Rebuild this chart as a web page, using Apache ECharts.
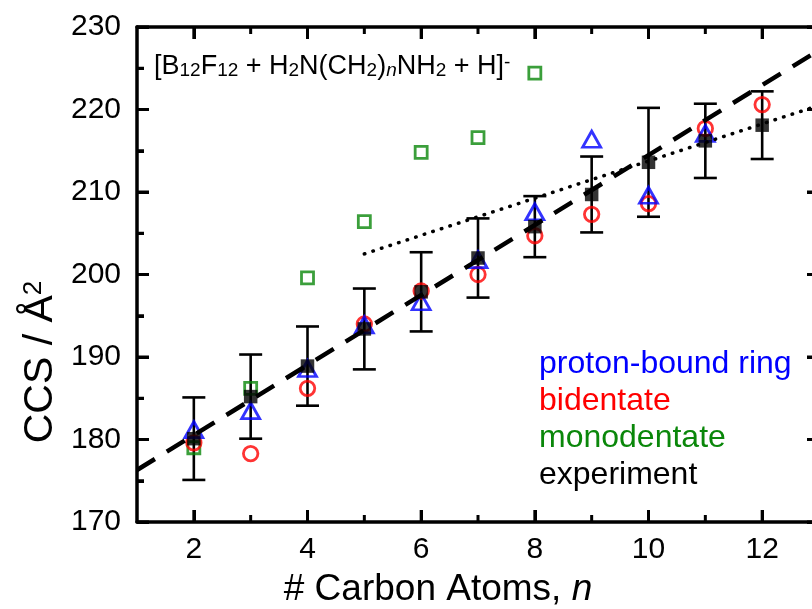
<!DOCTYPE html>
<html>
<head>
<meta charset="utf-8">
<script src="https://cdn.jsdelivr.net/npm/echarts@6/dist/echarts.min.js"></script>
<style>
html,body{margin:0;padding:0;background:#fff;}
#chart{width:812px;height:609px;}
</style>
</head>
<body>
<div id="chart"></div>
<script>
// ---- data ----
const nVals = [2, 3, 4, 5, 6, 7, 8, 9, 10, 11, 12];
const expMean = [180.1, 185.2, 188.9, 193.4, 197.9, 202.0, 205.8, 209.7, 213.6, 216.2, 218.1];
const expErr = [5.0, 5.1, 4.8, 4.9, 4.8, 4.8, 3.7, 4.6, 6.6, 4.5, 4.1];
const ringN = [2, 3, 4, 5, 6, 7, 8, 9, 10, 11];
const ringVals = [181.2, 183.5, 188.6, 193.9, 196.7, 201.8, 207.6, 216.4, 209.6, 217.1];
const bidN = [2, 3, 4, 5, 6, 7, 8, 9, 10, 11, 12];
const bidVals = [179.6, 178.3, 186.2, 194.0, 198.0, 200.0, 204.7, 207.3, 208.6, 217.7, 220.6];
const monoN = [2, 3, 4, 5, 6, 7, 8];
const monoVals = [179.0, 186.2, 199.6, 206.4, 214.8, 216.6, 224.4];
const dashFit = [[1, 176.3], [13, 227.2]];
const dotFit = [[5, 202.5], [13, 220.5]];
const xMajor = [2, 4, 6, 8, 10, 12];
const xMinor = [3, 5, 7, 9, 11];
const yMajor = [170, 180, 190, 200, 210, 220, 230];
const yMinor = [175, 185, 195, 205, 215, 225];

const FONT = '"Liberation Sans", Arial, sans-serif';
const X_MIN = 1, X_MAX = 13, Y_MIN = 170, Y_MAX = 230;
const X_MID = (X_MIN + X_MAX) / 2, Y_MID = (Y_MIN + Y_MAX) / 2;
const chart = echarts.init(document.getElementById('chart'));

function xAx(pos, withLabel) {
  return {
    type: 'value', min: X_MIN, max: X_MAX, interval: 1, position: pos,
    axisLine: {show: true, onZero: false, lineStyle: {color: '#000', width: 3.5}},
    axisTick: {show: true, inside: true, length: 12, customValues: xMajor, lineStyle: {color: '#000', width: 3}},
    axisLabel: withLabel ? {show: true, customValues: xMajor, fontSize: 30, color: '#000', fontFamily: FONT, margin: 13} : {show: false},
    splitLine: {show: false}
  };
}
function yAx(pos, withLabel) {
  return {
    type: 'value', min: Y_MIN, max: Y_MAX, interval: 10, position: pos,
    axisLine: {show: true, onZero: false, lineStyle: {color: '#000', width: 3.5}},
    axisTick: {show: true, inside: true, length: 12, lineStyle: {color: '#000', width: 3}},
    minorTick: {show: true, splitNumber: 2, length: 7, lineStyle: {color: '#000', width: 3}},
    axisLabel: withLabel ? {show: true, customValues: yMajor, fontSize: 30, color: '#000', fontFamily: FONT, margin: 16} : {show: false},
    splitLine: {show: false}, minorSplitLine: {show: false}
  };
}

const errData = nVals.map((n, i) => [n, expMean[i] - expErr[i], expMean[i] + expErr[i]]);
// tick marks: [x value, y value, kind (0 = x tick, 1 = y tick), length]
const tickData = [].concat(
  xMajor.map(v => [v, Y_MID, 0, 12]),
  xMinor.map(v => [v, Y_MID, 0, 7]),
  yMajor.map(v => [X_MID, v, 1, 12]),
  yMinor.map(v => [X_MID, v, 1, 7])
);

const option = {
  animation: false,
  backgroundColor: '#fff',
  grid: {left: 137, top: 27, width: 682, height: 495, outerBoundsMode: 'none', containLabel: false},
  xAxis: [xAx('bottom', true), xAx('top', false)],
  yAxis: [yAx('left', true), yAx('right', false)],
  series: [
    {type: 'custom', data: tickData, encode: {x: 0, y: 1}, silent: true, clip: false, z: 5,
      renderItem: function (params, api) {
        const cs = params.coordSys;
        const p = api.coord([api.value(0), api.value(1)]);
        const len = api.value(3);
        const st = {stroke: '#000', lineWidth: 3};
        if (api.value(2) === 0) {
          const yb = cs.y + cs.height, yt = cs.y;
          return {type: 'group', children: [
            {type: 'line', shape: {x1: p[0], y1: yb, x2: p[0], y2: yb - len}, style: st},
            {type: 'line', shape: {x1: p[0], y1: yt, x2: p[0], y2: yt + len}, style: st}
          ]};
        }
        const xl = cs.x, xr = cs.x + cs.width;
        return {type: 'group', children: [
          {type: 'line', shape: {x1: xl, y1: p[1], x2: xl + len, y2: p[1]}, style: st},
          {type: 'line', shape: {x1: xr, y1: p[1], x2: xr - len, y2: p[1]}, style: st}
        ]};
      }},
    {type: 'line', data: dashFit, symbol: 'none', silent: true,
      lineStyle: {color: '#000', width: 4.5, type: [21, 14]}},
    {type: 'line', data: dotFit, symbol: 'none', silent: true,
      lineStyle: {color: '#000', width: 3.5, type: [0.5, 8.5], cap: 'round'}},
    {type: 'scatter', data: monoN.map((n, i) => [n, monoVals[i]]), symbol: 'rect', symbolSize: 12,
      itemStyle: {color: 'rgba(0,0,0,0)', borderColor: '#0a870a', borderWidth: 2.8}},
    {type: 'scatter', data: bidN.map((n, i) => [n, bidVals[i]]), symbol: 'circle', symbolSize: 14.5,
      itemStyle: {color: 'rgba(0,0,0,0)', borderColor: '#ff0000', borderWidth: 2.8}},
    {type: 'scatter', data: ringN.map((n, i) => [n, ringVals[i]]), symbol: 'triangle', symbolSize: [18, 16],
      itemStyle: {color: 'rgba(0,0,0,0)', borderColor: '#0000ff', borderWidth: 2.8}},
    {type: 'custom', data: errData, encode: {x: 0, y: [1, 2]},
      renderItem: function (params, api) {
        const x = api.value(0);
        const lo = api.coord([x, api.value(1)]);
        const hi = api.coord([x, api.value(2)]);
        const c = 11.5;
        const st = {stroke: '#000', lineWidth: 2.6};
        return {type: 'group', children: [
          {type: 'line', shape: {x1: lo[0], y1: lo[1], x2: hi[0], y2: hi[1]}, style: st},
          {type: 'line', shape: {x1: lo[0] - c, y1: lo[1], x2: lo[0] + c, y2: lo[1]}, style: st},
          {type: 'line', shape: {x1: hi[0] - c, y1: hi[1], x2: hi[0] + c, y2: hi[1]}, style: st}
        ]};
      }},
    {type: 'scatter', data: nVals.map((n, i) => [n, expMean[i]]), symbol: 'rect', symbolSize: 13.5,
      itemStyle: {color: '#000'}}
  ],
  graphic: [
    {type: 'text', left: 154, top: 53, style: {
      text: '[B{s|12}F{s|12} + H{s|2}N(CH{s|2}){si|n}NH{s|2} + H]{p|-}',
      font: '27px ' + FONT, fill: '#000',
      rich: {
        s: {fontSize: 19, verticalAlign: 'bottom', lineHeight: 15, fontFamily: FONT, fill: '#000'},
        si: {fontSize: 19, fontStyle: 'italic', verticalAlign: 'bottom', lineHeight: 15, fontFamily: FONT, fill: '#000'},
        p: {fontSize: 19, verticalAlign: 'top', lineHeight: 13, fontFamily: FONT, fill: '#000'}
      }
    }},
    {type: 'text', left: 539, top: 348, style: {text: 'proton-bound ring', font: '32px ' + FONT, fill: '#0000ff'}},
    {type: 'text', left: 539, top: 385, style: {text: 'bidentate', font: '32px ' + FONT, fill: '#ff0000'}},
    {type: 'text', left: 539, top: 422, style: {text: 'monodentate', font: '32px ' + FONT, fill: '#0a870a'}},
    {type: 'text', left: 539, top: 459, style: {text: 'experiment', font: '32px ' + FONT, fill: '#000'}},
    {type: 'text', x: 438, y: 590, style: {
      text: '# Carbon Atoms, {i|n}', font: '37px ' + FONT, fill: '#000', align: 'center', verticalAlign: 'middle',
      rich: {i: {fontStyle: 'italic', fontSize: 37, fontFamily: FONT, fill: '#000'}}
    }},
    {type: 'text', x: 41, y: 362, rotation: Math.PI / 2, style: {
      text: 'CCS / Å{p|2}', font: '41px ' + FONT, fill: '#000', align: 'center', verticalAlign: 'middle',
      rich: {p: {fontSize: 26, verticalAlign: 'top', lineHeight: 20, fontFamily: FONT, fill: '#000'}}
    }}
  ]
};
chart.setOption(option);
</script>
</body>
</html>
